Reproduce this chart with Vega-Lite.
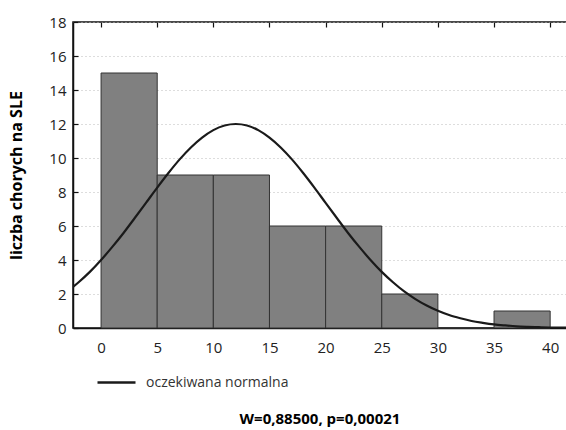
{
  "$schema": "https://vega.github.io/schema/vega-lite/v6.json",
  "width": 494,
  "height": 306,
  "autosize": "none",
  "padding": {"left": 73, "top": 22, "right": 0, "bottom": 102},
  "config": {
    "font": "Open Sans",
    "view": {"stroke": "#111", "strokeWidth": 1.5},
    "axisY": {"labelOverlap": false, "tickSize": -5, "labelPadding": 12, "ticks": true, "tickColor": "#111", "tickWidth": 1.2, "domainColor": "#111", "domainWidth": 1.5, "labelFontSize": 15, "labelColor": "#222", "gridColor": "#bbbbbb", "gridDash": [1, 3]}
  },
  "title": {"text": "W=0,88500, p=0,00021", "orient": "bottom", "anchor": "middle", "fontSize": 15, "fontWeight": "bold", "color": "#000", "offset": 22, "font": "Open Sans"},
  "layer": [
    {
      "data": {"values": [
        {"bin_start": 0, "bin_end": 5, "count": 15},
        {"bin_start": 5, "bin_end": 10, "count": 9},
        {"bin_start": 10, "bin_end": 15, "count": 9},
        {"bin_start": 15, "bin_end": 20, "count": 6},
        {"bin_start": 20, "bin_end": 25, "count": 6},
        {"bin_start": 25, "bin_end": 30, "count": 2},
        {"bin_start": 30, "bin_end": 35, "count": 0},
        {"bin_start": 35, "bin_end": 40, "count": 1}
      ]},
      "mark": {"type": "rect", "fill": "#808080", "stroke": "#333333", "strokeWidth": 1},
      "encoding": {
        "x": {"field": "bin_start", "type": "quantitative", "scale": {"domain": [-2.5, 41.5], "nice": false, "zero": false},
          "axis": {"orient": "top", "values": [0, 5, 10, 15, 20, 25, 30, 35, 40], "labels": false, "ticks": true, "tickSize": -5, "tickColor": "#111", "tickWidth": 1.2, "domain": false, "grid": false, "title": null}},
        "x2": {"field": "bin_end"},
        "y": {"field": "count", "type": "quantitative", "scale": {"domain": [0, 18], "nice": false},
          "axis": {"orient": "left", "values": [0, 2, 4, 6, 8, 10, 12, 14, 16, 18], "labelOverlap": false, "grid": true, "title": "liczba chorych na SLE", "titleFontSize": 16, "titleFontWeight": "bold", "titleColor": "#000", "titlePadding": 24}},
        "y2": {"datum": 0}
      }
    },
    {
      "data": {"values": [
        {"x": -2.5, "y": 2.41}, {"x": -2, "y": 2.69}, {"x": -1, "y": 3.30}, {"x": 0, "y": 4.00},
        {"x": 1, "y": 4.77}, {"x": 2, "y": 5.59}, {"x": 3, "y": 6.47}, {"x": 4, "y": 7.36},
        {"x": 5, "y": 8.26}, {"x": 6, "y": 9.12}, {"x": 7, "y": 9.92}, {"x": 8, "y": 10.62},
        {"x": 9, "y": 11.20}, {"x": 10, "y": 11.64}, {"x": 11, "y": 11.91}, {"x": 12, "y": 12.0},
        {"x": 13, "y": 11.91}, {"x": 14, "y": 11.64}, {"x": 15, "y": 11.20}, {"x": 16, "y": 10.62},
        {"x": 17, "y": 9.92}, {"x": 18, "y": 9.12}, {"x": 19, "y": 8.26}, {"x": 20, "y": 7.36},
        {"x": 21, "y": 6.47}, {"x": 22, "y": 5.59}, {"x": 23, "y": 4.77}, {"x": 24, "y": 4.00},
        {"x": 25, "y": 3.30}, {"x": 26, "y": 2.69}, {"x": 27, "y": 2.15}, {"x": 28, "y": 1.70},
        {"x": 29, "y": 1.32}, {"x": 30, "y": 1.01}, {"x": 31, "y": 0.76}, {"x": 32, "y": 0.57},
        {"x": 33, "y": 0.41}, {"x": 34, "y": 0.30}, {"x": 35, "y": 0.21}, {"x": 36, "y": 0.15},
        {"x": 37, "y": 0.10}, {"x": 38, "y": 0.069}, {"x": 39, "y": 0.046}, {"x": 40, "y": 0.030},
        {"x": 41, "y": 0.020}, {"x": 41.5, "y": 0.016}
      ]},
      "mark": {"type": "line", "interpolate": "monotone", "strokeWidth": 2.2, "clip": true},
      "encoding": {
        "x": {"field": "x", "type": "quantitative", "scale": {"domain": [-2.5, 41.5], "nice": false, "zero": false},
          "axis": {"orient": "bottom", "values": [0, 5, 10, 15, 20, 25, 30, 35, 40], "ticks": false, "grid": false, "title": null, "domainColor": "#111", "domainWidth": 1.5, "labelFontSize": 15, "labelColor": "#222", "labelPadding": 12}},
        "y": {"field": "y", "type": "quantitative", "axis": {"orient": "left", "values": [0, 2, 4, 6, 8, 10, 12, 14, 16, 18], "labelOverlap": false, "grid": true, "title": "liczba chorych na SLE", "titleFontSize": 16, "titleFontWeight": "bold", "titleColor": "#000", "titlePadding": 24}},
        "color": {"datum": "oczekiwana normalna", "type": "nominal", "scale": {"range": ["#1a1a1a"]},
          "legend": {"title": null, "orient": "none", "legendX": 23, "legendY": 340, "symbolType": "stroke", "symbolSize": 1444, "symbolStrokeWidth": 2.5, "labelFontSize": 14, "labelColor": "#333", "labelOffset": 9}}
      }
    }
  ],
  "resolve": {"scale": {"x": "independent"}, "axis": {"x": "independent"}}
}
